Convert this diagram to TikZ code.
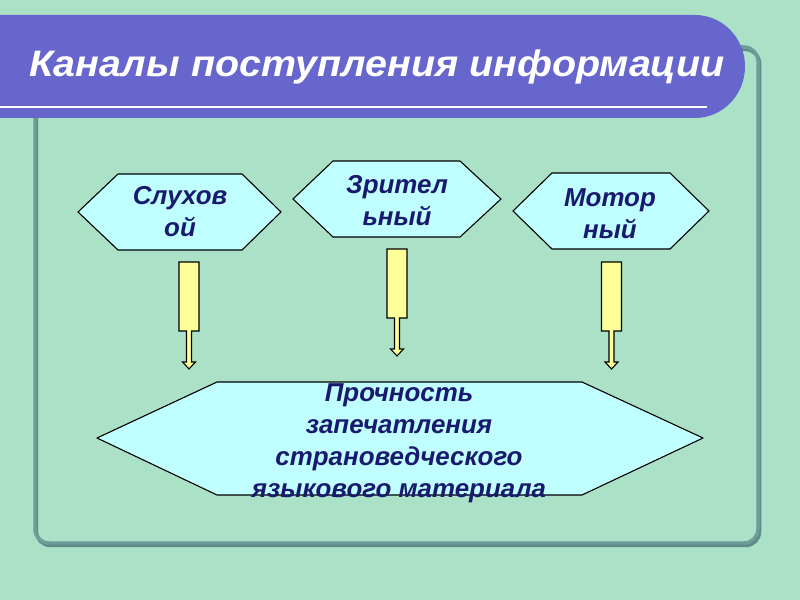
\documentclass[tikz,border=0pt]{standalone}
\usepackage{fontspec}
\setmainfont{Liberation Sans}
\usepackage{tkz-euclide}
\definecolor{BackClr}{rgb}{0.67,0.886,0.78}
\definecolor{FrameClr}{rgb}{0.43,0.61,0.6}
\definecolor{ShadowClr}{rgb}{0.37,0.54,0.53}
\definecolor{TitleClr}{rgb}{0.4,0.4,0.8}
\definecolor{HexClr}{rgb}{0.75,1,1}
\definecolor{ArrowClr}{rgb}{1,1,0.6}
\definecolor{TextClr}{rgb}{0.1,0.1,0.43}

\begin{document}
\begin{tikzpicture}[x=1bp,y=1bp,
  chantext/.style={font=\fontsize{26}{32}\selectfont\bfseries\itshape,text=TextClr,align=center,inner sep=0pt},
  blockarrow/.style={fill=ArrowClr,draw=black,line width=1.1pt,line join=miter}]
\tkzSetUpLine[line width=1.1pt,color=black]

\fill[BackClr] (0,0) rectangle (800,600);
\useasboundingbox (0,0) rectangle (800,600);

% frame
\draw[ShadowClr,line width=3.5pt,rounded corners=14] (36.5,54.5) rectangle (759.5,550.5);
\draw[FrameClr,line width=3.5pt,rounded corners=14] (35,57) rectangle (758,553);

% title bar
\fill[TitleClr] (0,585) -- (695,585) arc[start angle=90,end angle=-90,x radius=50,y radius=51.5] -- (0,482) -- cycle;
\draw[white,line width=2.5pt] (0,493) -- (707,493);
\node[anchor=base,text=white,font=\fontsize{37}{42}\selectfont\bfseries\itshape] (title) at (377,523)
  {\scalebox{1.07}[1]{Каналы поступления информации}};

\tkzDefPoints{78/388/sA,118/426/sB,242/426/sC,281/388/sD,242/350/sE,118/350/sF}
\tkzDefPoints{293/401/zA,333/439/zB,460/439/zC,501/401/zD,460/363/zE,333/363/zF}
\tkzDefPoints{513/389/mA,552/427/mB,670/427/mC,709/389/mD,670/351/mE,552/351/mF}
\tkzDefPoints{97/162/pA,217/218/pB,582/218/pC,703/162/pD,582/105/pE,217/105/pF}
\tkzDefPoints{189/338/T1,397/351/T2,611.5/338/T3}

\tkzFillPolygon[fill=HexClr](sA,sB,sC,sD,sE,sF)
\tkzFillPolygon[fill=HexClr](zA,zB,zC,zD,zE,zF)
\tkzFillPolygon[fill=HexClr](mA,mB,mC,mD,mE,mF)
\tkzFillPolygon[fill=HexClr](pA,pB,pC,pD,pE,pF)
\tkzDrawPolygon(sA,sB,sC,sD,sE,sF)
\tkzDrawPolygon(zA,zB,zC,zD,zE,zF)
\tkzDrawPolygon(mA,mB,mC,mD,mE,mF)
\tkzDrawPolygon(pA,pB,pC,pD,pE,pF)

% block arrows
\foreach \t in {T1,T2,T3}
  \filldraw[blockarrow] (\t) ++(-10,0) -- ++(20,0) -- ++(0,-69) -- ++(-7.5,0) -- ++(0,-31) -- ++(4,0)
    -- ++(-6.5,-7) -- ++(-6.5,7) -- ++(4,0) -- ++(0,31) -- ++(-7.5,0) -- cycle;

\node[chantext] (sluh) at (180,388.5) {Слухов\\ой};
\node[chantext] (zrit) at (397,399) {Зрител\\ьный};
\node[chantext] (motor) at (610,386.5) {Мотор\\ный};
\node[chantext] (proch) at (399,157) {Прочность\\запечатления\\страноведческого\\языкового материала};

\end{tikzpicture}
\end{document}
